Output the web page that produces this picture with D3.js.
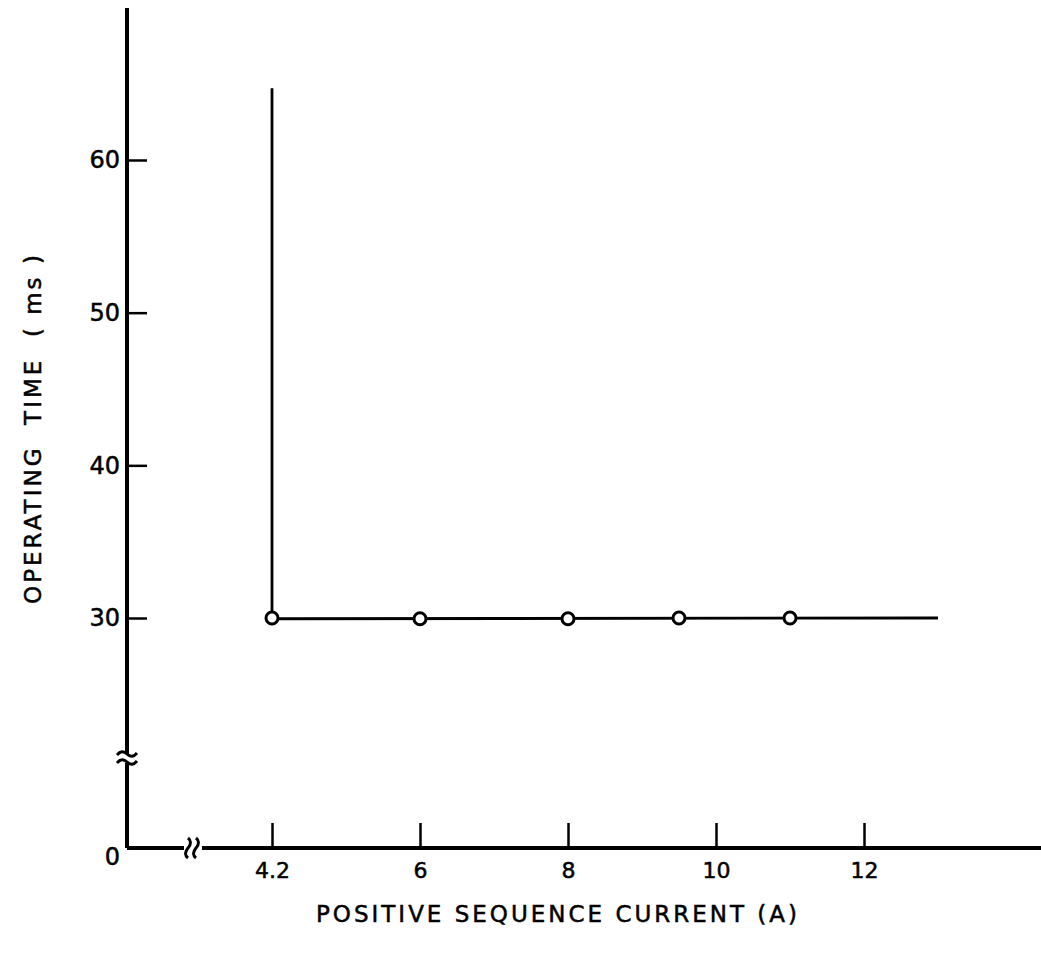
<!DOCTYPE html>
<html>
<head>
<meta charset="utf-8">
<script src="https://cdn.jsdelivr.net/npm/d3@7"></script>
<style>
body{margin:0;background:#fff;}
text{font-family:'DejaVu Sans',sans-serif;fill:#000;stroke:#000;stroke-width:0.5px;}
</style>
</head>
<body>
<script>
// measured points: current (A) vs operating time (ms)
var currents=[4.2,6,8,9.5,11];
var times=[30,29.9,29.9,30,30];
// characteristic: vertical at pickup, then flat
var curveX=[4.2,4.2,13];
var curveY=[64.7,29.9,30];
var xTicks=[4.2,6,8,10,12];
var xTickLabels=['4.2','6','8','10','12'];
var yTicks=[0,30,40,50,60];

var width=1041,height=955;
var svg=d3.select('body').append('svg')
    .attr('width',width)
    .attr('height',height);

// broken axes: piecewise scales
var xScale=d3.scaleLinear()
    .domain([4.2,6,12])
    .range([272,420,864]);
var yScale=d3.scaleLinear()
    .domain([0,30,60])
    .range([848,618,160]);

var x0=127,y0=848;

var xAxis=d3.axisBottom(xScale)
    .tickValues(xTicks)
    .tickFormat((d,i)=>xTickLabels[i])
    .tickSizeInner(-25)
    .tickSizeOuter(0)
    .tickPadding(14);
var yAxis=d3.axisLeft(yScale)
    .tickValues(yTicks)
    .tickFormat(d3.format('d'))
    .tickSizeInner(-20)
    .tickSizeOuter(0)
    .tickPadding(7);

var gx=svg.append('g')
    .attr('transform','translate(0,'+y0+')')
    .call(xAxis);
var gy=svg.append('g')
    .attr('transform','translate('+x0+',0)')
    .call(yAxis);
gx.select('.domain').remove();
gy.select('.domain').remove();
gx.selectAll('.tick line').attr('stroke-width',2.5);
gy.selectAll('.tick line').attr('stroke-width',2.5);
gy.selectAll('.tick').filter(d=>d==0).select('line').remove();
gx.selectAll('text').style('font-size','22px').style('font-family','DejaVu Sans');
gy.selectAll('text').style('font-size','24px').style('font-family','DejaVu Sans')
    .attr('dy',(d)=>d==0?'0.7em':'0.32em');

// axis lines with breaks
var axes=svg.append('g')
    .attr('fill','none')
    .attr('stroke','#000')
    .attr('stroke-width',4);
var yBreak=757,xBreak=192;
axes.append('line').attr('x1',x0).attr('y1',8).attr('x2',x0).attr('y2',yBreak-3);
axes.append('line').attr('x1',x0).attr('y1',yBreak+6).attr('x2',x0).attr('y2',y0);
axes.append('path')
    .attr('stroke-width',3)
    .attr('d','M'+(x0-10)+','+(yBreak-2)+' q5,-6 10,-1 q5,5 10,-1 M'+(x0-10)+','+(yBreak+6)+' q5,-6 10,-1 q5,5 10,-1');
axes.append('line').attr('x1',x0).attr('y1',y0).attr('x2',xBreak-8).attr('y2',y0);
axes.append('line').attr('x1',xBreak+10).attr('y1',y0).attr('x2',width).attr('y2',y0);
axes.append('path')
    .attr('stroke-width',3)
    .attr('d','M'+(xBreak-4)+','+(y0+10)+' q-5,-4 0,-10 q5,-6 0,-10 M'+(xBreak+4)+','+(y0+10)+' q-5,-4 0,-10 q5,-6 0,-10');

// curve
var line=d3.line()
    .x((d,i)=>xScale(curveX[i]))
    .y((d,i)=>yScale(curveY[i]));
svg.append('path')
    .datum(curveX)
    .attr('d',line)
    .attr('fill','none')
    .attr('stroke','#000')
    .attr('stroke-width',2.8);

svg.selectAll('circle.pt')
    .data(currents)
    .enter()
    .append('circle')
    .attr('class','pt')
    .attr('cx',(d)=>xScale(d))
    .attr('cy',(d,i)=>yScale(times[i]))
    .attr('r',6)
    .attr('fill','#fff')
    .attr('stroke','#000')
    .attr('stroke-width',3);

svg.append('text')
    .attr('x',558)
    .attr('y',922)
    .attr('text-anchor','middle')
    .style('font-size','23px')
    .style('letter-spacing','3px')
    .text('POSITIVE SEQUENCE CURRENT (A)');

svg.append('text')
    .attr('transform','translate(41,428) rotate(-90)')
    .attr('text-anchor','middle')
    .style('font-size','23px')
    .style('letter-spacing','3px')
    .style('white-space','pre')
    .text('OPERATING  TIME  ( ms )');
</script>
</body>
</html>
